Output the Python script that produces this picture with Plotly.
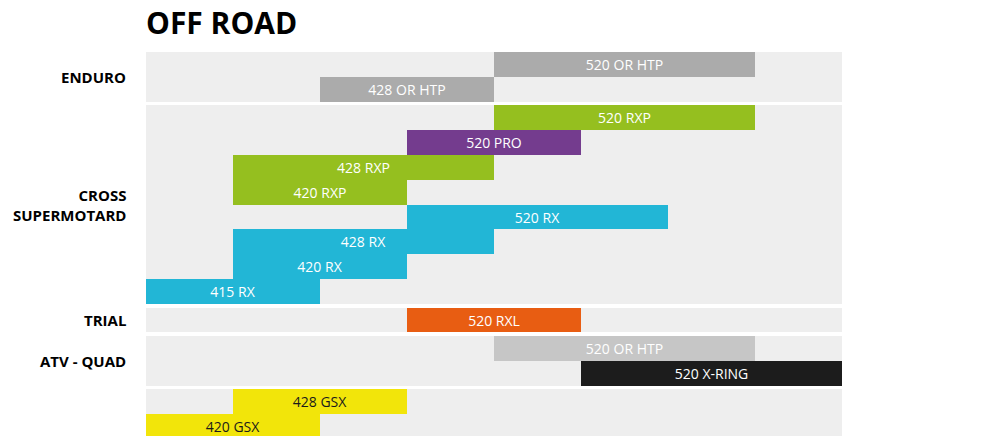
import plotly.graph_objects as go

# ---- data ----
group_labels = ["ENDURO", "CROSS<br>SUPERMOTARD", "TRIAL", "ATV - QUAD", ""]
group_rows = [2, 8, 1, 2, 2]

bar_labels = ["520 OR HTP", "428 OR HTP",
              "520 RXP", "520 PRO", "428 RXP", "420 RXP", "520 RX", "428 RX", "420 RX", "415 RX",
              "520 RXL",
              "520 OR HTP", "520 X-RING",
              "428 GSX", "420 GSX"]
bar_group = [0, 0, 1, 1, 1, 1, 1, 1, 1, 1, 2, 3, 3, 4, 4]
bar_row = [0, 1, 0, 1, 2, 3, 4, 5, 6, 7, 0, 0, 1, 0, 1]
bar_start = [4, 2, 4, 3, 1, 1, 3, 1, 1, 0, 3, 4, 5, 1, 0]
bar_end = [7, 4, 7, 5, 4, 3, 6, 4, 3, 2, 5, 7, 8, 3, 2]
bar_colors = ["#ababab", "#ababab",
              "#95bf1f", "#743c8e", "#95bf1f", "#95bf1f", "#22b6d6", "#22b6d6", "#22b6d6", "#22b6d6",
              "#e85d12",
              "#c6c6c6", "#1c1c1c",
              "#f2e50a", "#f2e50a"]
text_colors = ["white"] * 13 + ["#1a1a1a", "#1a1a1a"]
n_columns = 8

# ---- layout computation ----
gap = 0.14
group_top = []
t = 0.0
for n in group_rows:
    group_top.append(t)
    t += n + gap

fig = go.Figure()

# group backgrounds
fig.add_trace(go.Bar(
    orientation="h",
    y=[group_top[g] + group_rows[g] / 2 for g in range(len(group_rows))],
    x=[n_columns] * len(group_rows),
    base=[0] * len(group_rows),
    width=group_rows,
    marker=dict(color="#eeeeee", line=dict(width=0)),
    hoverinfo="skip",
    showlegend=False,
))

# product bars
fig.add_trace(go.Bar(
    orientation="h",
    y=[group_top[g] + r + 0.5 for g, r in zip(bar_group, bar_row)],
    x=[e - s for s, e in zip(bar_start, bar_end)],
    base=bar_start,
    width=[1] * len(bar_labels),
    marker=dict(color=bar_colors, line=dict(width=0)),
    text=bar_labels,
    textposition="inside",
    insidetextanchor="middle",
    textangle=0,
    constraintext="none",
    textfont=dict(family="Open Sans", size=14, color=text_colors),
    hoverinfo="skip",
    showlegend=False,
))

# group labels
for g, lab in enumerate(group_labels):
    if not lab:
        continue
    fig.add_annotation(
        x=0, xref="paper", xanchor="right", xshift=-18,
        y=group_top[g] + group_rows[g] / 2, yref="y", yanchor="middle",
        text="<b>" + lab + "</b>", align="right", showarrow=False,
        font=dict(family="Open Sans", size=15, color="#000000"),
    )

fig.update_layout(
    width=1007, height=436,
    margin=dict(l=146, r=165, t=52, b=0),
    paper_bgcolor="white", plot_bgcolor="white",
    barmode="overlay", bargap=0,
    title=dict(text="<b>OFF ROAD</b>", x=146 / 1007, xref="container", xanchor="left",
               y=1 - 23 / 436, yref="container", yanchor="middle",
               font=dict(family="Open Sans", size=30, color="#000000")),
    xaxis=dict(range=[0, n_columns], visible=False, fixedrange=True),
    yaxis=dict(range=[15.45, 0], visible=False, fixedrange=True),
)

fig.write_html("out.html")
